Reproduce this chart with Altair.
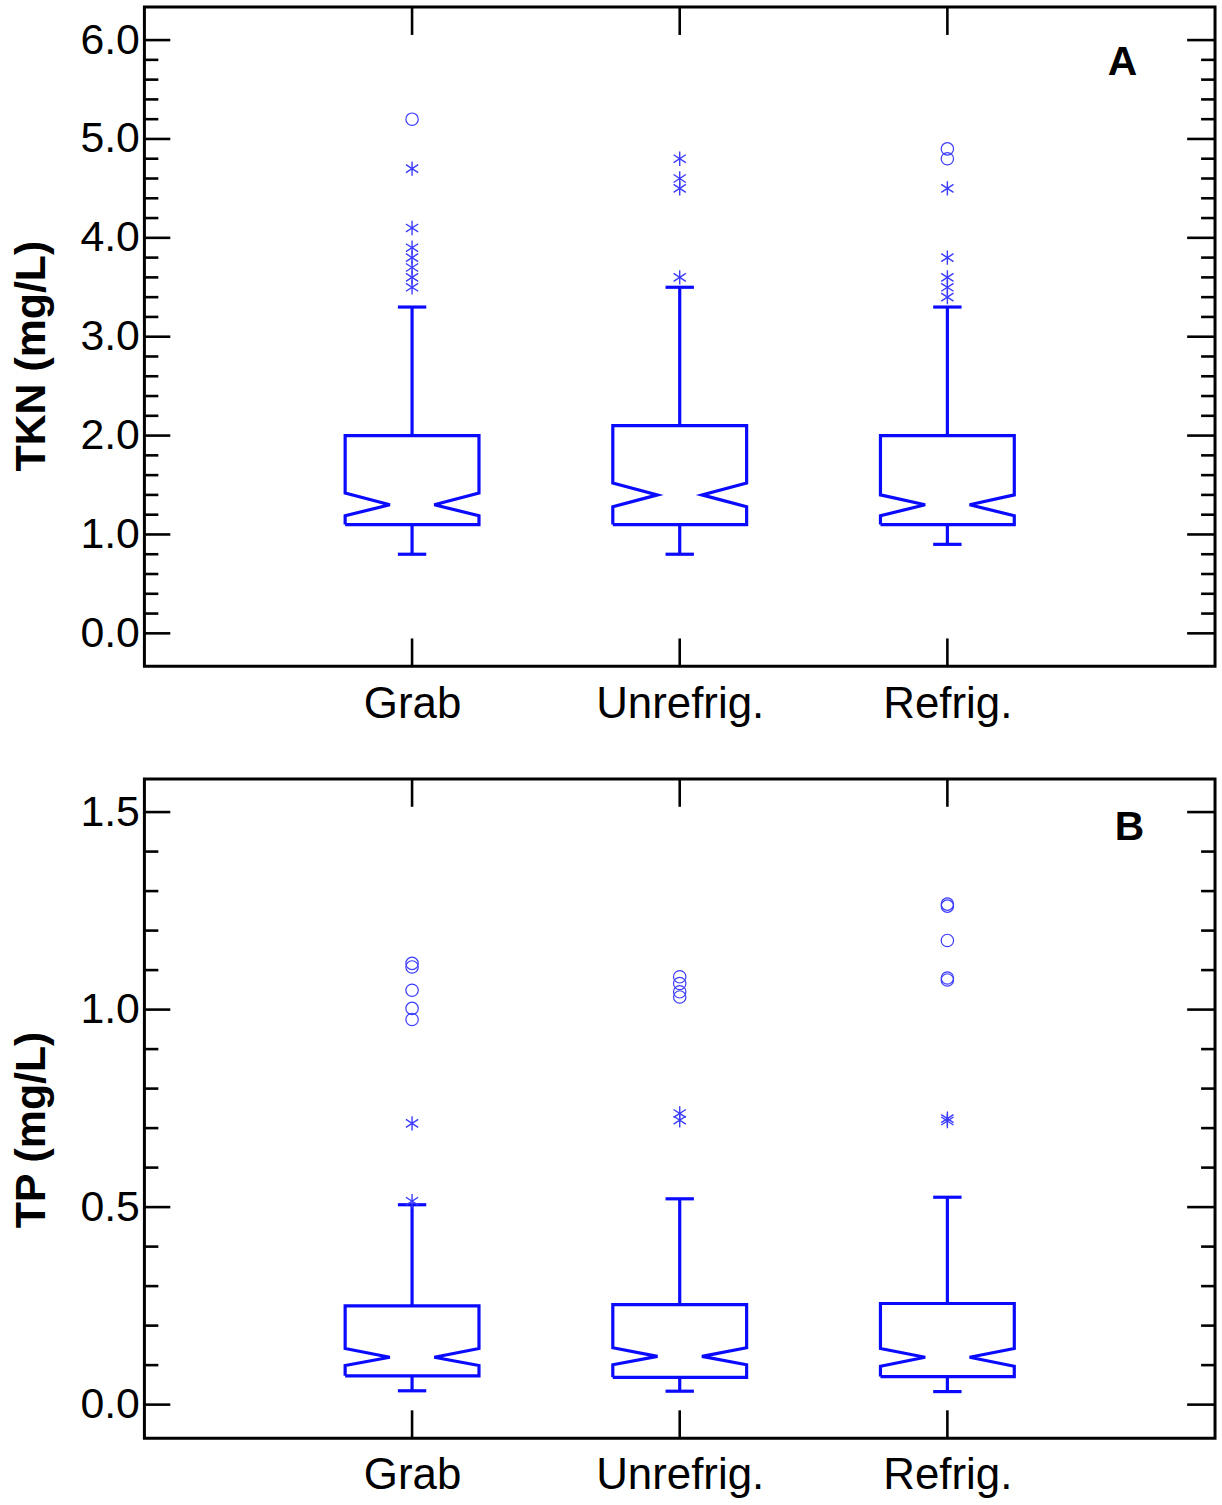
import altair as alt
import pandas as pd

# ---------------------------------------------------------------
# Sample types and their positions along the x scale
# ---------------------------------------------------------------
groups = ["Grab", "Unrefrig.", "Refrig."]
positions = [1, 2, 3]

# TKN (mg/L) box-plot summaries
tkn_whisker_low = [0.8, 0.8, 0.9]
tkn_q1 = [1.1, 1.1, 1.1]
tkn_notch_low = [1.19, 1.28, 1.19]
tkn_median = [1.3, 1.4, 1.3]
tkn_notch_high = [1.42, 1.52, 1.40]
tkn_q3 = [2.0, 2.1, 2.0]
tkn_whisker_high = [3.3, 3.5, 3.3]
tkn_outside = [[3.5, 3.6, 3.7, 3.8, 3.9, 4.1, 4.7],
               [3.6, 4.5, 4.6, 4.8],
               [3.4, 3.5, 3.6, 3.8, 4.5]]
tkn_far_out = [[5.2], [], [4.8, 4.9]]

# TP (mg/L) box-plot summaries
tp_whisker_low = [0.035, 0.034, 0.033]
tp_q1 = [0.073, 0.069, 0.071]
tp_notch_low = [0.099, 0.101, 0.097]
tp_median = [0.120, 0.122, 0.120]
tp_notch_high = [0.142, 0.144, 0.142]
tp_q3 = [0.250, 0.253, 0.256]
tp_whisker_high = [0.506, 0.521, 0.525]
tp_outside = [[0.515, 0.712], [0.720, 0.737], [0.718, 0.724]]
tp_far_out = [[0.975, 1.003, 1.049, 1.108, 1.117],
              [1.032, 1.045, 1.066, 1.083],
              [1.075, 1.080, 1.175, 1.262, 1.267]]

# Axis ticks
tkn_major = [0, 1, 2, 3, 4, 5, 6]
tkn_minor = [round(0.2 * i, 1) for i in range(1, 30) if i % 5 != 0]
tp_major = [0.0, 0.5, 1.0, 1.5]
tp_minor = [round(0.1 * i, 1) for i in range(1, 15) if i % 5 != 0]

# ---------------------------------------------------------------
# Geometry / style
# ---------------------------------------------------------------
W, H = 1075, 662
BOX_HALF = 0.25      # half box width (x units)
NOTCH_HALF = 0.083   # half width at the notch waist
CAP_HALF = 0.053     # half width of whisker caps
BLUE = "#0a0aff"
OUT_BLUE = "#3c3cff"
FONT = "Liberation Sans"
ASTERISK = "M0,-1L0,1M-0.85,-0.55L0.85,0.55M-0.85,0.55L0.85,-0.55"

x_scale = alt.Scale(domain=[0, 4], nice=False, zero=False)
label_expr = " : ".join(
    f"datum.value == {p} ? '{g}'" for p, g in zip(positions[:-1], groups[:-1])
) + f" : '{groups[-1]}'"
x_axis = alt.Axis(values=positions, labelExpr=label_expr, ticks=False, domain=False,
                  grid=False, labelFont=FONT, labelFontSize=44, labelColor="black",
                  labelPadding=16, title=None)


def panel(title, letter, letter_x, letter_y, domain, major, minor, fmt,
          wlow, q1, nlo, med, nhi, q3, whigh, outside, far_out, title_y):
    y_scale = alt.Scale(domain=domain, nice=False, zero=False)
    y_axis = alt.Axis(values=major, format=fmt, ticks=False, domain=False, grid=False,
                      labelFont=FONT, labelFontSize=43, labelColor="black", labelPadding=5,
                      title=title, titleFont=FONT, titleFontSize=43, titleFontWeight="bold",
                      titleColor="black", titleAngle=270, titleX=-113, titleY=title_y,
                      titleAlign="center", titleBaseline="middle")

    def X(field):
        return alt.X(field, scale=x_scale, axis=x_axis, title=None)

    def Y(field):
        return alt.Y(field, scale=y_scale, axis=y_axis, title=title)

    # notched box outline (no line across the median, as drawn)
    outline = []
    for p, g, a, b, c, d, e in zip(positions, groups, q1, nlo, med, nhi, q3):
        pts = [(-BOX_HALF, a), (-BOX_HALF, b), (-NOTCH_HALF, c), (-BOX_HALF, d),
               (-BOX_HALF, e), (BOX_HALF, e), (BOX_HALF, d), (NOTCH_HALF, c),
               (BOX_HALF, b), (BOX_HALF, a), (-BOX_HALF, a)]
        for k, (dx, yv) in enumerate(pts):
            outline.append({"group": g, "x": p + dx, "y": yv, "k": k})
    outline = pd.DataFrame(outline)

    stats = pd.DataFrame({
        "group": groups, "pos": positions,
        "lo": [p - CAP_HALF for p in positions],
        "hi": [p + CAP_HALF for p in positions],
        "wlow": wlow, "q1": q1, "q3": q3, "whigh": whigh,
    })

    pts_out = pd.DataFrame([{"pos": p, "v": v} for p, vs in zip(positions, outside) for v in vs])
    pts_far = pd.DataFrame([{"pos": p, "v": v} for p, vs in zip(positions, far_out) for v in vs])

    major_df = pd.DataFrame({"v": major})
    minor_df = pd.DataFrame({"v": minor})
    pos_df = pd.DataFrame({"pos": positions})

    box = alt.Chart(outline).mark_line(color=BLUE, strokeWidth=3.2, strokeJoin="miter").encode(
        x=X("x:Q"), y=Y("y:Q"), detail="group:N", order="k:Q")

    base = alt.Chart(stats)
    rule_style = dict(color=BLUE, strokeWidth=3.2)
    upper = base.mark_rule(**rule_style).encode(x=X("pos:Q"), y=Y("q3:Q"), y2="whigh:Q")
    lower = base.mark_rule(**rule_style).encode(x=X("pos:Q"), y=Y("wlow:Q"), y2="q1:Q")
    cap_hi = base.mark_rule(**rule_style).encode(x=X("lo:Q"), x2="hi:Q", y=Y("whigh:Q"))
    cap_lo = base.mark_rule(**rule_style).encode(x=X("lo:Q"), x2="hi:Q", y=Y("wlow:Q"))

    stars = alt.Chart(pts_out).mark_point(shape=ASTERISK, size=210, filled=False,
                                          color=OUT_BLUE, strokeWidth=1.4, opacity=1).encode(
        x=X("pos:Q"), y=Y("v:Q"))
    circles = alt.Chart(pts_far).mark_point(shape="circle", size=155, filled=False,
                                            color=OUT_BLUE, strokeWidth=1.2, opacity=1).encode(
        x=X("pos:Q"), y=Y("v:Q"))

    # inward frame ticks
    tick_style = dict(color="black", strokeWidth=2.6)
    y_ticks = []
    for df, left_len, right_len in [(major_df, 26, 28), (minor_df, 14, 14)]:
        y_ticks.append(alt.Chart(df).mark_rule(**tick_style).encode(
            y=Y("v:Q"), x=alt.value(0), x2=alt.value(left_len)))
        y_ticks.append(alt.Chart(df).mark_rule(**tick_style).encode(
            y=Y("v:Q"), x=alt.value(W - right_len), x2=alt.value(W)))
    x_ticks = [
        alt.Chart(pos_df).mark_rule(**tick_style).encode(
            x=X("pos:Q"), y=alt.value(0), y2=alt.value(28)),
        alt.Chart(pos_df).mark_rule(**tick_style).encode(
            x=X("pos:Q"), y=alt.value(H - 28), y2=alt.value(H)),
    ]

    tag = alt.Chart(pd.DataFrame({"t": [letter]})).mark_text(
        font=FONT, fontSize=41, fontWeight="bold", color="black",
        align="center", baseline="middle").encode(
        text="t:N", x=alt.value(letter_x), y=alt.value(letter_y))

    return alt.layer(box, upper, lower, cap_hi, cap_lo, stars, circles,
                     *y_ticks, *x_ticks, tag).properties(width=W, height=H)


top = panel("TKN (mg/L)", "A", 982, 56, [-0.334, 6.334], tkn_major, tkn_minor, ".1f",
            tkn_whisker_low, tkn_q1, tkn_notch_low, tkn_median, tkn_notch_high, tkn_q3,
            tkn_whisker_high, tkn_outside, tkn_far_out, 350)
bottom = panel("TP (mg/L)", "B", 989, 49, [-0.085, 1.584], tp_major, tp_minor, ".1f",
               tp_whisker_low, tp_q1, tp_notch_low, tp_median, tp_notch_high, tp_q3,
               tp_whisker_high, tp_outside, tp_far_out, 352)

chart = alt.vconcat(top, bottom, spacing=48).properties(
    padding={"left": 9, "top": 1, "right": 4, "bottom": 5},
    background="white",
).configure_view(stroke="black", strokeWidth=3)

chart.save("out.html", embed_options={"renderer": "svg", "actions": False})
